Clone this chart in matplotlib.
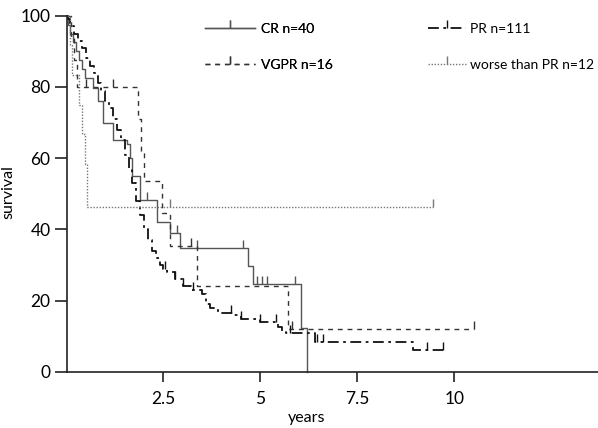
import numpy as np
import matplotlib
matplotlib.use("Agg")
import matplotlib.pyplot as plt
from matplotlib.path import Path
from matplotlib.lines import Line2D

plt.rcParams['font.family'] = ['Lato', 'DejaVu Sans']

# --- data (years, survival %) ---
# CR n=40
cr_t = [0.05, 0.10, 0.18, 0.25, 0.32, 0.40, 0.48, 0.68, 0.81, 0.94, 1.20, 1.56, 1.64, 1.69,
        1.89, 2.32, 2.67, 2.93, 4.68, 4.81, 6.04, 6.19]
cr_s = [97.5, 95, 92.5, 90, 87.5, 85, 82.5, 79.6, 76, 70, 65, 64, 60, 55,
        48.2, 42, 39, 34.7, 29.8, 24.8, 12.4, 0]
cr_cens = [2.07, 2.85, 3.37, 4.55, 4.91, 5.04, 5.17, 5.89]

# VGPR n=16
vg_t = [0.12, 0.20, 0.28, 1.84, 1.93, 1.99, 2.45, 2.67, 3.36, 5.72]
vg_s = [93.75, 87.5, 80, 71, 62, 53.6, 44.6, 35.3, 24.2, 12.1]
vg_cens = [0.50, 1.20, 3.22, 5.80, 10.5]

# PR n=111
pr_t = [0.05, 0.10, 0.20, 0.30, 0.40, 0.50, 0.60, 0.70, 0.80, 0.90, 1.00, 1.10, 1.20,
        1.30, 1.40, 1.50, 1.60, 1.70, 1.80, 1.90, 2.00, 2.10, 2.20, 2.30, 2.40, 2.50,
        2.60, 2.80, 3.00, 3.20, 3.50, 3.60, 3.70, 3.90, 4.30, 4.50, 5.00, 5.45, 5.55,
        5.65, 6.40, 8.93]
pr_s = [99, 97, 95, 93, 91, 88, 86, 84, 81, 79, 76, 74, 71,
        68, 65, 61, 57, 53, 48, 44, 40, 37, 34, 32, 30, 29,
        28, 26, 24, 23, 22, 19, 18, 16.5, 16, 15, 14, 12.6, 11.2,
        10.9, 8.5, 6.2]
pr_cens = [2.55, 2.80, 3.00, 3.25, 4.25, 4.50, 5.00, 5.40, 5.75, 6.45, 6.60, 9.30, 9.70]

# worse than PR n=12
wo_t = [0.09, 0.14, 0.32, 0.41, 0.48, 0.53]
wo_s = [91.7, 83.3, 75, 66.7, 58.3, 46.4]
wo_cens = [2.68, 9.45]

labels = ['CR n=40', 'VGPR n=16', 'PR n=111', 'worse than PR n=12']
xticks = [2.5, 5, 7.5, 10]
xtick_labels = ['2.5', '5', '7.5', '10']
yticks = [0, 20, 40, 60, 80, 100]

# upward censor tick
tick = Path([(0, 0), (0, 1)], [Path.MOVETO, Path.LINETO])

fig = plt.figure(figsize=(5.98, 4.28), dpi=100)
ax = fig.add_axes([66.5 / 598, 56 / 428, 531.5 / 598, 356.3 / 428])

styles = [
    dict(color='#555555', lw=1.0, ls='-'),
    dict(color='#333333', lw=1.0, ls=(0, (3.5, 3.5))),
    dict(color='#111111', lw=1.3, ls=(0, (6, 2.5, 1.5, 2.5))),
    dict(color='#777777', lw=1.0, ls=(0, (1, 1.2))),
]
curves = [(cr_t, cr_s, cr_cens), (vg_t, vg_s, vg_cens), (pr_t, pr_s, pr_cens), (wo_t, wo_s, wo_cens)]

handles = []
for (t, s, cens), st, lab in zip(curves, styles, labels):
    t = np.array(t)
    s = np.array(s)
    cens = np.array(cens)
    t_end = max(t[-1], cens.max())
    xs = np.concatenate([[0], t, [t_end]])
    ys = np.concatenate([[100], s, [s[-1]]])
    ax.step(xs, ys, where='post', clip_on=False, **st)
    idx = np.searchsorted(t, cens, side='right')
    cs = np.concatenate([[100], s])[idx]
    ax.plot(cens, cs, ls='none', marker=tick, markersize=11, mew=1.0,
            color=st['color'], clip_on=False)
    handles.append(Line2D([], [], marker=tick, markersize=11, mew=1.0, **st))

leg1 = fig.legend(handles[:2], labels[:2], loc='upper left', bbox_to_anchor=(205 / 598, 1 - 23 / 428),
                  frameon=False, fontsize=10, handlelength=3.6, handletextpad=0.45,
                  labelspacing=1.75, borderpad=0, borderaxespad=0)
fig.add_artist(leg1)
fig.legend(handles[2:], labels[2:], loc='upper left', bbox_to_anchor=(428 / 598, 1 - 23 / 428),
           frameon=False, fontsize=10, handlelength=2.7, handletextpad=0.3,
           labelspacing=1.75, borderpad=0, borderaxespad=0)

ax.set_xlim(0, 13.7)
ax.set_ylim(0, 100)
ax.spines['top'].set_visible(False)
ax.spines['right'].set_visible(False)
for sp in ['left', 'bottom']:
    ax.spines[sp].set_linewidth(1.2)
    ax.spines[sp].set_color('#222222')
ax.set_xticks(xticks)
ax.set_xticklabels(xtick_labels)
ax.set_yticks(yticks)
ax.tick_params(axis='y', length=8.5, width=1.2, pad=3, labelsize=12.5, color='#222222')
ax.tick_params(axis='x', length=7.5, width=1.2, pad=6, labelsize=12.5, color='#222222')
ax.set_xlabel('years', fontsize=11.5)
ax.xaxis.set_label_coords((307 - 66.5) / 531.5, -(418 - 372) / 356.3)
ax.xaxis.label.set_va('center')
ax.set_ylabel('survival', fontsize=11.5)
ax.yaxis.set_label_coords(-(66.5 - 8) / 531.5, 0.505)
ax.yaxis.label.set_va('center')

fig.savefig('out.png', dpi=100)
